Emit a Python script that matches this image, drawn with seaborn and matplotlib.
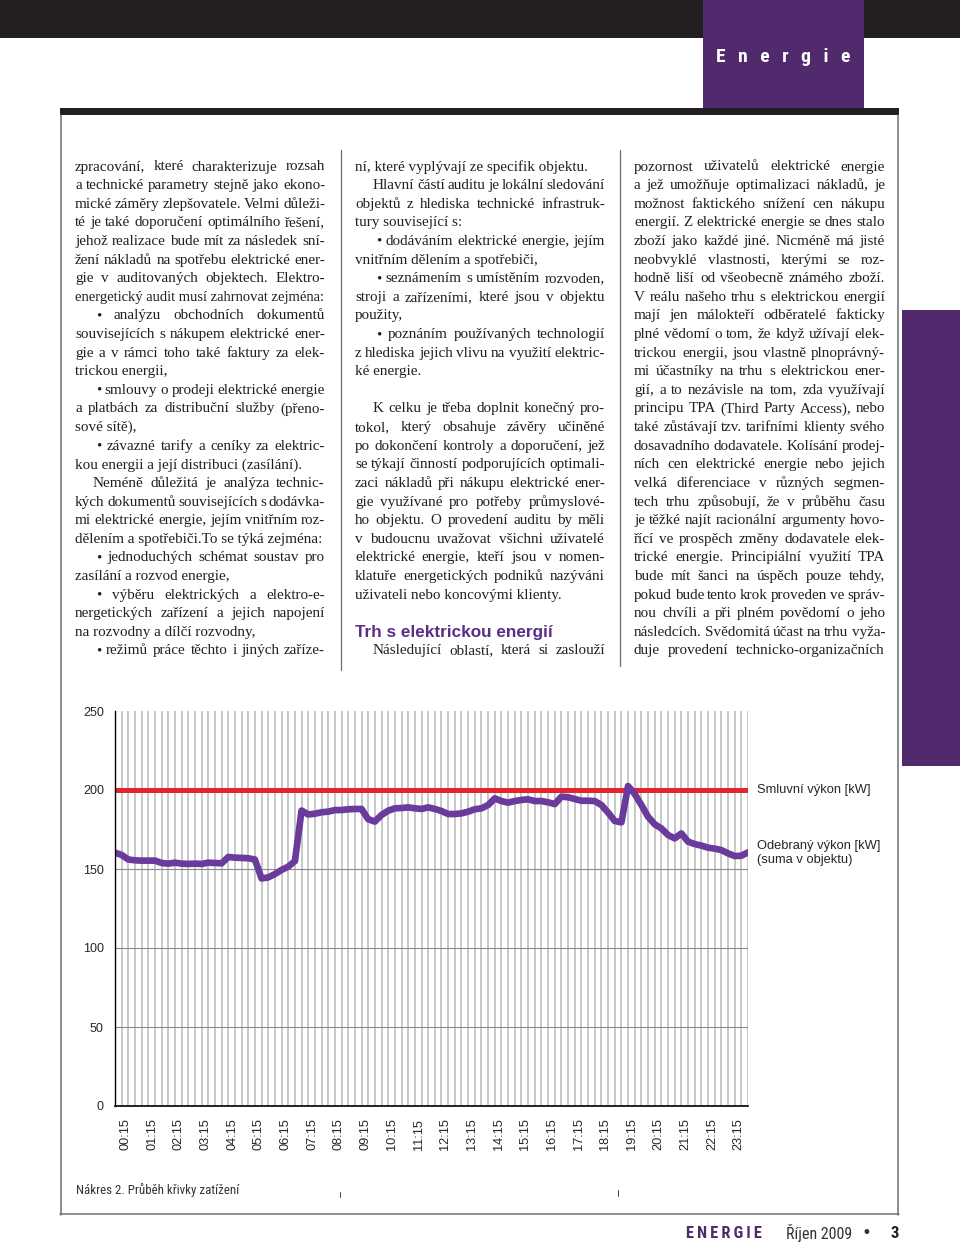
import numpy as np
import pandas as pd
import matplotlib
matplotlib.use("Agg")
import matplotlib.pyplot as plt
from matplotlib.patches import Rectangle
from matplotlib.lines import Line2D
from matplotlib.transforms import blended_transform_factory
import seaborn as sns

# chart data: 15-minute load profile of the site
times = pd.date_range("2009-10-01 00:00", periods=96, freq="15min").strftime("%H:%M").tolist()
odebrany_vykon = [
    160.3, 158.9, 156.0, 155.5, 155.3, 155.3, 155.3, 153.8, 153.4, 154.0,
    153.4, 153.2, 153.4, 153.2, 154.0, 153.8, 153.6, 157.6, 157.2, 157.0,
    156.8, 156.0, 144.0, 144.7, 146.8, 149.4, 151.5, 155.0, 187.0, 184.5,
    185.0, 185.9, 186.3, 187.3, 187.3, 187.8, 188.0, 188.0, 181.5, 180.0,
    184.2, 186.9, 188.4, 188.6, 189.0, 188.4, 188.0, 189.0, 188.0, 186.7,
    184.8, 184.8, 185.2, 186.3, 187.8, 188.4, 190.5, 194.7, 193.0, 192.0,
    193.0, 193.7, 194.1, 193.0, 193.0, 192.2, 191.1, 195.8, 195.4, 194.3,
    193.2, 193.2, 193.0, 190.5, 185.7, 180.4, 179.5, 202.5, 197.5, 190.5,
    183.1, 178.3, 175.7, 171.5, 169.4, 172.5, 167.3, 165.8, 164.8, 163.5,
    162.9, 162.0, 159.9, 158.2, 158.4, 160.5,
]
smluvni_vykon = 200
tick_labels = ["00:15", "01:15", "02:15", "03:15", "04:15", "05:15", "06:15", "07:15",
               "08:15", "09:15", "10:15", "11:15", "12:15", "13:15", "14:15", "15:15",
               "16:15", "17:15", "18:15", "19:15", "20:15", "21:15", "22:15", "23:15"]
y_ticks = [0, 50, 100, 150, 200, 250]
label_smluvni = "Smluvní výkon [kW]"
label_odebrany = "Odebraný výkon [kW]\n(suma v objektu)"
caption = "Nákres 2. Průběh křivky zatížení"

# page text: (style, lines, closed) - closed paragraphs end with a ragged line
col1 = [
    ("plain", ["zpracování, které charakterizuje rozsah",
               "a technické parametry stejně jako ekono-",
               "mické záměry zlepšovatele. Velmi důleži-",
               "té je také doporučení optimálního řešení,",
               "jehož realizace bude mít za následek sní-",
               "žení nákladů na spotřebu elektrické ener-",
               "gie v auditovaných objektech. Elektro-",
               "energetický audit musí zahrnovat zejména:"], True),
    ("bullet", ["• analýzu obchodních dokumentů",
                "souvisejících s nákupem elektrické ener-",
                "gie a v rámci toho také faktury za elek-",
                "trickou energii,"], True),
    ("bullet", ["• smlouvy o prodeji elektrické energie",
                "a platbách za distribuční služby (přeno-",
                "sové sítě),"], True),
    ("bullet", ["• závazné tarify a ceníky za elektric-",
                "kou energii a její distribuci (zasílání)."], True),
    ("indent", ["Neméně důležitá je analýza technic-",
                "kých dokumentů souvisejících s dodávka-",
                "mi elektrické energie, jejím vnitřním roz-",
                "dělením a spotřebiči.To se týká zejména:"], True),
    ("bullet", ["• jednoduchých schémat soustav pro",
                "zasílání a rozvod energie,"], True),
    ("bullet", ["• výběru elektrických a elektro-e-",
                "nergetických zařízení a jejich napojení",
                "na rozvodny a dílčí rozvodny,"], True),
    ("bullet", ["• režimů práce těchto i jiných zaříze-"], False),
]
col2 = [
    ("plain", ["ní, které vyplývají ze specifik objektu."], True),
    ("indent", ["Hlavní částí auditu je lokální sledování",
                "objektů z hlediska technické infrastruk-",
                "tury související s:"], True),
    ("bullet", ["• dodáváním elektrické energie, jejím",
                "vnitřním dělením a spotřebiči,"], True),
    ("bullet", ["• seznámením s umístěním rozvoden,",
                "stroji a zařízeními, které jsou v objektu",
                "použity,"], True),
    ("bullet", ["• poznáním používaných technologií",
                "z hlediska jejich vlivu na využití elektric-",
                "ké energie."], True),
    ("gap", [], True),
    ("indent", ["K celku je třeba doplnit konečný pro-",
                "tokol, který obsahuje závěry učiněné",
                "po dokončení kontroly a doporučení, jež",
                "se týkají činností podporujících optimali-",
                "zaci nákladů při nákupu elektrické ener-",
                "gie využívané pro potřeby průmyslové-",
                "ho objektu. O provedení auditu by měli",
                "v budoucnu uvažovat všichni uživatelé",
                "elektrické energie, kteří jsou v nomen-",
                "klatuře energetických podniků nazýváni",
                "uživateli nebo koncovými klienty."], True),
    ("gap", [], True),
    ("heading", ["Trh s elektrickou energií"], True),
    ("indent", ["Následující oblastí, která si zaslouží"], False),
]
col3 = [
    ("plain", ["pozornost uživatelů elektrické energie",
               "a jež umožňuje optimalizaci nákladů, je",
               "možnost faktického snížení cen nákupu",
               "energií. Z elektrické energie se dnes stalo",
               "zboží jako každé jiné. Nicméně má jisté",
               "neobvyklé vlastnosti, kterými se roz-",
               "hodně liší od všeobecně známého zboží.",
               "V reálu našeho trhu s elektrickou energií",
               "mají jen málokteří odběratelé fakticky",
               "plné vědomí o tom, že když užívají elek-",
               "trickou energii, jsou vlastně plnoprávný-",
               "mi účastníky na trhu s elektrickou ener-",
               "gií, a to nezávisle na tom, zda využívají",
               "principu TPA (Third Party Access), nebo",
               "také zůstávají tzv. tarifními klienty svého",
               "dosavadního dodavatele. Kolísání prodej-",
               "ních cen elektrické energie nebo jejich",
               "velká diferenciace v různých segmen-",
               "tech trhu způsobují, že v průběhu času",
               "je těžké najít racionální argumenty hovo-",
               "řící ve prospěch změny dodavatele elek-",
               "trické energie. Principiální využití TPA",
               "bude mít šanci na úspěch pouze tehdy,",
               "pokud bude tento krok proveden ve správ-",
               "nou chvíli a při plném povědomí o jeho",
               "následcích. Svědomitá účast na trhu vyža-",
               "duje provedení technicko-organizačních"], False),
]

PURPLE = "#512a6e"
DARK = "#231f20"
W, H = 960, 1245
NARROW = ["Roboto Condensed", "Liberation Sans", "DejaVu Sans"]

sns.set_style("white")
plt.rcParams["font.family"] = ["Liberation Sans", "DejaVu Sans"]

fig = plt.figure(figsize=(W / 100, H / 100), dpi=100)
renderer = fig.canvas.get_renderer()


def fx(x):
    return x / W


def fy(y):
    return 1 - y / H


def rect(x, y, w, h, color):
    fig.add_artist(Rectangle((fx(x), fy(y + h)), w / W, h / H, transform=fig.transFigure,
                             facecolor=color, edgecolor="none"))


def vline(x, y0, y1, color="#6d6d6d", lw=1.1):
    fig.add_artist(Line2D([fx(x), fx(x)], [fy(y0), fy(y1)], transform=fig.transFigure,
                          color=color, lw=lw))


def hline(y, x0, x1, color="#6d6d6d", lw=1.1):
    fig.add_artist(Line2D([fx(x0), fx(x1)], [fy(y), fy(y)], transform=fig.transFigure,
                          color=color, lw=lw))


# page furniture
rect(0, 0, W, 38, DARK)
rect(703, 0, 161, 108, PURPLE)
rect(902, 310, 58, 456, PURPLE)
rect(60, 108, 839, 7, DARK)
vline(60.5, 115, 1215)
vline(898, 115, 1215)
hline(1214, 60, 898.5)
vline(341, 150, 670, lw=0.9)
vline(620, 150, 666, lw=0.9)
vline(340, 1192, 1197, color="#444444", lw=0.7)
vline(618, 1190, 1196, color="#444444", lw=0.7)

SP = "\u2002\u2009"
fig.text(fx(783), fy(57), SP.join("Energie"), color="white",
         fontsize=14, fontweight="bold", family=["Roboto Condensed", "Open Sans", "DejaVu Sans"],
         ha="center", va="center")

# body text, justified by hand
BASE_SIZE = 10.9
SERIF = dict(family=["Liberation Serif", "DejaVu Serif"], color=DARK)
ROW0, ROW_H = 166, 18.615
MIN_GAP = 2.2


def put_line(x0, x1, y, text, justify):
    avail = x1 - x0
    whole = fig.text(fx(x0), fy(y), text, va="baseline", ha="left", fontsize=BASE_SIZE, **SERIF)
    natural = whole.get_window_extent(renderer).width
    if not justify:
        if natural > avail:
            whole.set_fontsize(BASE_SIZE * avail / natural)
        return
    whole.remove()
    words = text.split(" ")
    size = BASE_SIZE
    objs = [fig.text(0, fy(y), w, va="baseline", ha="left", fontsize=size, **SERIF) for w in words]
    widths = [o.get_window_extent(renderer).width for o in objs]
    n_gaps = max(len(words) - 1, 1)
    if sum(widths) + MIN_GAP * n_gaps > avail:
        size = BASE_SIZE * (avail - MIN_GAP * n_gaps) / sum(widths)
        for o in objs:
            o.set_fontsize(size)
        widths = [o.get_window_extent(renderer).width for o in objs]
    gap = (avail - sum(widths)) / n_gaps
    x = x0
    for o, w in zip(objs, widths):
        o.set_x(fx(x))
        x += w + gap


def put_column(paragraphs, x0, x1):
    row = 0
    for style, lines, closed in paragraphs:
        if style == "gap":
            row += 1
            continue
        if style == "heading":
            fig.text(fx(x0), fy(ROW0 + row * ROW_H + 5.5), lines[0], color="#5b2d86",
                     fontsize=12.3, fontweight="bold", family=["Liberation Sans", "DejaVu Sans"],
                     va="baseline")
            row += 1
            continue
        for i, line in enumerate(lines):
            start = x0
            if i == 0 and style == "indent":
                start += 18
            if i == 0 and style == "bullet":
                start += 21
            last = closed and i == len(lines) - 1
            put_line(start, x1, ROW0 + row * ROW_H + 4.5, line, not last)
            row += 1


put_column(col1, 75, 325)
put_column(col2, 355, 605)
put_column(col3, 634, 885)

# the chart
df = pd.DataFrame({"cas": times, "odebrany": odebrany_vykon})
df["poradi"] = np.arange(len(df))
df["smluvni"] = smluvni_vykon

ax = fig.add_axes([fx(115), fy(1106), (748 - 115) / W, (1106 - 711) / H])
sns.lineplot(data=df, x="poradi", y="smluvni", ax=ax, color="#e3262b", lw=3.6, legend=False)
sns.lineplot(data=df, x="poradi", y="odebrany", ax=ax, color="#6a3a9c", lw=4.8,
             solid_joinstyle="round", solid_capstyle="round", legend=False)

ax.set_xlim(0, len(df) - 1)
ax.set_ylim(y_ticks[0], y_ticks[-1])
ax.set_yticks(y_ticks)
ax.set_xticks(df["poradi"], minor=True)
ax.set_xticks([times.index(t) + 0.6 for t in tick_labels])
ax.set_xticklabels(tick_labels, rotation=90, fontsize=9.2)
ax.tick_params(axis="y", labelsize=9, length=5, width=1, color="black", pad=3)
ax.tick_params(axis="x", which="major", length=0, pad=9)
ax.tick_params(axis="x", which="minor", length=5, width=1.4, color="#bdbdbd")
ax.set_xlabel("")
ax.set_ylabel("")
ax.grid(axis="x", which="minor", color="#c8c8c8", lw=1.4)
ax.grid(axis="y", which="major", color="#8a8a8a", lw=0.8)
ax.yaxis.get_gridlines()[-1].set_visible(False)
ax.set_axisbelow(True)
sns.despine(ax=ax)
ax.spines["left"].set_color("black")
ax.spines["bottom"].set_color("black")
ax.spines["left"].set_linewidth(1.0)
ax.spines["bottom"].set_linewidth(1.2)

tr = blended_transform_factory(ax.transAxes, ax.transData)
ax.text(1.0142, smluvni_vykon, label_smluvni, transform=tr, fontsize=9.3, va="center", ha="left")
ax.text(1.0142, 160, label_odebrany, transform=tr, fontsize=9.3, va="center", ha="left",
        linespacing=1.2)

fig.text(fx(76), fy(1190), caption, fontsize=9.3, color="#333333", family=NARROW, va="center")

# footer
fig.text(fx(686), fy(1233), "E\u2009N\u2009E\u2009R\u2009G\u2009I\u2009E", color="#4a2a6c",
         fontsize=11.8, fontweight="bold", family=NARROW, va="center")
fig.text(fx(786), fy(1233), "Říjen 2009", color="#333333", fontsize=11.5, family=NARROW,
         va="center")
fig.text(fx(866), fy(1233), "•", color="#333333", fontsize=12, family=["DejaVu Sans"],
         va="center", ha="center")
fig.text(fx(895), fy(1233), "3", color=DARK, fontsize=12, fontweight="bold", family=NARROW,
         va="center", ha="center")

fig.savefig("out.png", dpi=100)
